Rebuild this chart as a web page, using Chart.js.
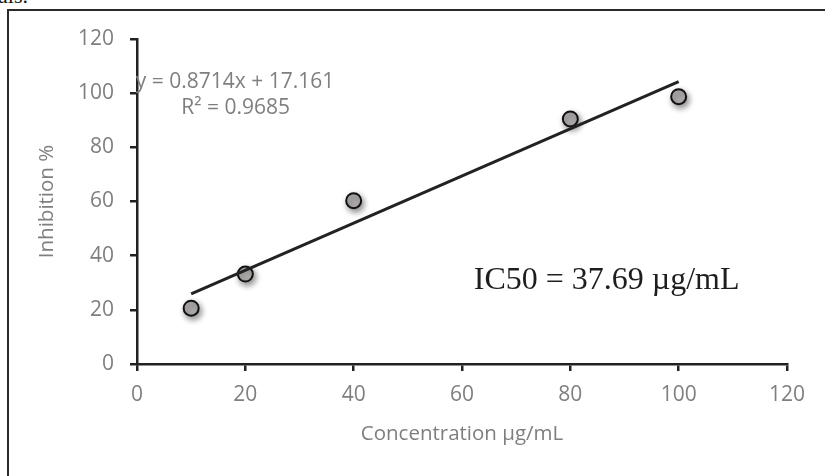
<!DOCTYPE html>
<html>
<head>
<meta charset="utf-8">
<script src="https://cdn.jsdelivr.net/npm/chart.js@4.4.1/dist/chart.umd.min.js"></script>
<style>
  html, body { margin: 0; padding: 0; background: #fff; overflow: hidden; }
  #wrap { position: relative; width: 825px; height: 476px; }
  #frame { position: absolute; left: 7px; top: 9px; width: 900px; height: 600px; border: 2px solid #2a2a2a; box-sizing: border-box; }
  #docText { position: absolute; left: -2px; top: -15px; font-family: "Liberation Serif", serif; font-size: 22px; line-height: 1; color: #111; }
  #chart { position: absolute; left: 0; top: 0; }
</style>
</head>
<body>
<div id="wrap">
  <div id="docText">als.</div>
  <div id="frame"></div>
  <canvas id="chart" width="825" height="476"></canvas>
</div>
<script>
// measured points
const concentrations = [10, 20, 40, 80, 100];
const inhibition = [20.6, 33.2, 60.3, 90.5, 98.7];

// linear trendline as printed on the chart
const slope = 0.8714;
const intercept = 17.161;
const rSquared = 0.9685;
const ic50 = 37.69;

const xTicks = [0, 20, 40, 60, 80, 100, 120];
const yTicks = [0, 20, 40, 60, 80, 100, 120];

const labelGray = '#7f7f7f';
const axisBlack = '#222222';
const sansFont = '"Open Sans", Lato, sans-serif';

const points = concentrations.map((x, i) => ({ x: x, y: inhibition[i] }));
const xFirst = concentrations[0];
const xLast = concentrations[concentrations.length - 1];
const trend = [
    { x: xFirst, y: slope * xFirst + intercept },
    { x: xLast, y: slope * xLast + intercept }
];

// shadow under the markers, like the Excel style
const markerShadow = {
    id: 'markerShadow',
    beforeDatasetDraw(chart, args) {
        if (args.index !== 1) return;
        const ctx = chart.ctx;
        ctx.save();
        ctx.shadowColor = 'rgba(0,0,0,0.45)';
        ctx.shadowBlur = 6;
        ctx.shadowOffsetX = 2;
        ctx.shadowOffsetY = 3;
    },
    afterDatasetDraw(chart, args) {
        if (args.index !== 1) return;
        chart.ctx.restore();
    }
};

// equation and IC50 labels
const textLabels = {
    id: 'textLabels',
    afterDatasetsDraw(chart) {
        const ctx = chart.ctx;
        const xs = chart.scales.x, ys = chart.scales.y;
        ctx.save();
        ctx.textAlign = 'center';
        ctx.textBaseline = 'middle';
        ctx.fillStyle = labelGray;
        ctx.font = '21px ' + sansFont;
        ctx.fillText(`y = ${slope}x + ${intercept}`, xs.getPixelForValue(18.1), ys.getPixelForValue(104.1));
        ctx.fillText(`R² = ${rSquared}`, xs.getPixelForValue(18.2), ys.getPixelForValue(94.5));
        ctx.fillStyle = '#1e1e1e';
        ctx.textBaseline = 'alphabetic';
        ctx.font = '32px "Liberation Serif", "Times New Roman", serif';
        ctx.fillText(`IC50 = ${ic50} µg/mL`, xs.getPixelForValue(86.7), ys.getPixelForValue(27.7));
        ctx.restore();
    }
};

new Chart(document.getElementById('chart'), {
    type: 'scatter',
    data: {
        datasets: [
            {
                type: 'line',
                label: 'Trendline',
                data: trend,
                borderColor: axisBlack,
                borderWidth: 3,
                pointRadius: 0,
                fill: false
            },
            {
                label: 'Inhibition %',
                data: points,
                backgroundColor: '#b3afaf',
                borderColor: '#111',
                borderWidth: 2,
                pointRadius: 7.5
            }
        ]
    },
    options: {
        responsive: false,
        animation: false,
        layout: { padding: { left: 0, top: 39, right: 38, bottom: 30 } },
        plugins: { legend: { display: false }, tooltip: { enabled: false } },
        scales: {
            x: {
                type: 'linear',
                min: 0, max: 120,
                afterBuildTicks: s => { s.ticks = xTicks.map(v => ({ value: v })); },
                afterFit: s => { s.height = 82; },
                grid: { drawOnChartArea: false, drawTicks: true, tickLength: 7, color: axisBlack, lineWidth: 2.5 },
                border: { display: true, color: axisBlack, width: 2.5 },
                ticks: { color: labelGray, font: { family: sansFont, size: 21 }, padding: 11, maxRotation: 0 },
                title: { display: true, text: 'Concentration µg/mL', color: labelGray, font: { family: sansFont, size: 20.5 }, padding: 0 }
            },
            y: {
                type: 'linear',
                min: 0, max: 120,
                afterBuildTicks: s => { s.ticks = yTicks.map(v => ({ value: v })); },
                afterFit: s => { s.width = 137; },
                grid: { drawOnChartArea: false, drawTicks: true, tickLength: 7, color: axisBlack, lineWidth: 2.5 },
                border: { display: true, color: axisBlack, width: 2.5 },
                ticks: { color: labelGray, font: { family: sansFont, size: 21 }, padding: 16 },
                title: { display: true, text: 'Inhibition %', color: labelGray, font: { family: sansFont, size: 20.5 }, padding: { top: 35, bottom: 0 } }
            }
        }
    },
    plugins: [markerShadow, textLabels]
});
</script>
</body>
</html>
